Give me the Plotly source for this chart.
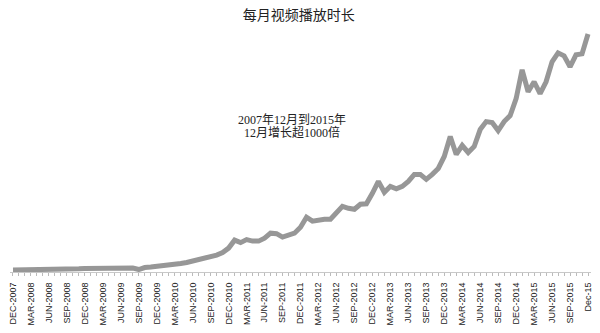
import plotly.graph_objects as go

# Quarterly tick labels, December 2007 through December 2015
tick_labels = [
    "DEC-2007", "MAR-2008", "JUN-2008", "SEP-2008", "DEC-2008",
    "MAR-2009", "JUN-2009", "SEP-2009", "DEC-2009",
    "MAR-2010", "JUN-2010", "SEP-2010", "DEC-2010",
    "MAR-2011", "JUN-2011", "SEP-2011", "DEC-2011",
    "MAR-2012", "JUN-2012", "SEP-2012", "DEC-2012",
    "MAR-2013", "JUN-2013", "SEP-2013", "DEC-2013",
    "MAR-2014", "JUN-2014", "SEP-2014", "DEC-2014",
    "MAR-2015", "JUN-2015", "SEP-2015", "Dec-15",
]

# Monthly viewing time (relative units), Dec 2007 .. Dec 2015
watch_time = [
    1, 1, 1.5, 2, 1.5, 1.5, 1.8, 2, 2, 2, 2, 2.2,
    2.5, 2.5, 2.5, 2.5, 2.5, 2.5, 2.8, 3.2, 3, 1.5, 3.5, 4,
    4.5, 5, 5.8, 6.5, 7.5, 8.5, 10, 11.5, 12.5, 14, 16, 18.5,
    23, 31, 28.5, 31.5, 30, 30, 33, 38, 37.5, 34, 35.5, 38,
    44, 54, 50, 51.5, 52, 52, 58, 65, 63, 62, 67, 67.5,
    78, 90, 79, 85, 82.5, 85, 90, 97, 97, 92, 97, 103,
    115, 135, 117, 126, 119, 125, 142, 150, 149, 141, 150, 156,
    173, 202, 180, 190, 178, 190, 210, 219, 216, 205, 217, 218,
    238,
]

note_lines = ["2007年12月到2015年", "12月增长超1000倍"]

month_idx = list(range(len(watch_time)))
tick_text = [tick_labels[i // 3] if i % 3 == 0 else "" for i in month_idx]

fig = go.Figure(
    go.Scatter(
        x=month_idx,
        y=watch_time,
        mode="lines",
        line=dict(color="#979797", width=5),
        hoverinfo="skip",
    )
)

note_font = dict(family="Liberation Serif, Noto Sans CJK SC", size=12, color="#222222")

fig.update_layout(
    width=600,
    height=333,
    margin=dict(l=10, r=7, t=20, b=60),
    paper_bgcolor="white",
    plot_bgcolor="white",
    showlegend=False,
    title=dict(
        text="每月视频播放时长",
        x=0.498,
        xanchor="center",
        y=0.955,
        yanchor="middle",
        font=dict(family="Noto Sans CJK SC", size=14, color="#222222"),
    ),
    annotations=[
        dict(
            text=line,
            x=0.486,
            y=yp,
            xref="paper",
            yref="paper",
            xanchor="center",
            yanchor="middle",
            showarrow=False,
            font=note_font,
        )
        for line, yp in zip(note_lines, [0.605, 0.553])
    ],
)

fig.update_xaxes(
    range=[-0.5, len(watch_time) - 0.5],
    tickmode="array",
    tickvals=month_idx,
    ticktext=tick_text,
    tickangle=-90,
    ticks="outside",
    ticklen=3,
    tickcolor="#bbbbbb",
    tickwidth=1,
    ticklabelstandoff=3,
    showline=True,
    linecolor="#c8c8c8",
    linewidth=1,
    showgrid=False,
    zeroline=False,
    tickfont=dict(family="Liberation Sans", size=9, color="#222222"),
)

fig.update_yaxes(
    range=[-1, 252],
    visible=False,
    showgrid=False,
    zeroline=False,
)

fig.write_html("out.html")
